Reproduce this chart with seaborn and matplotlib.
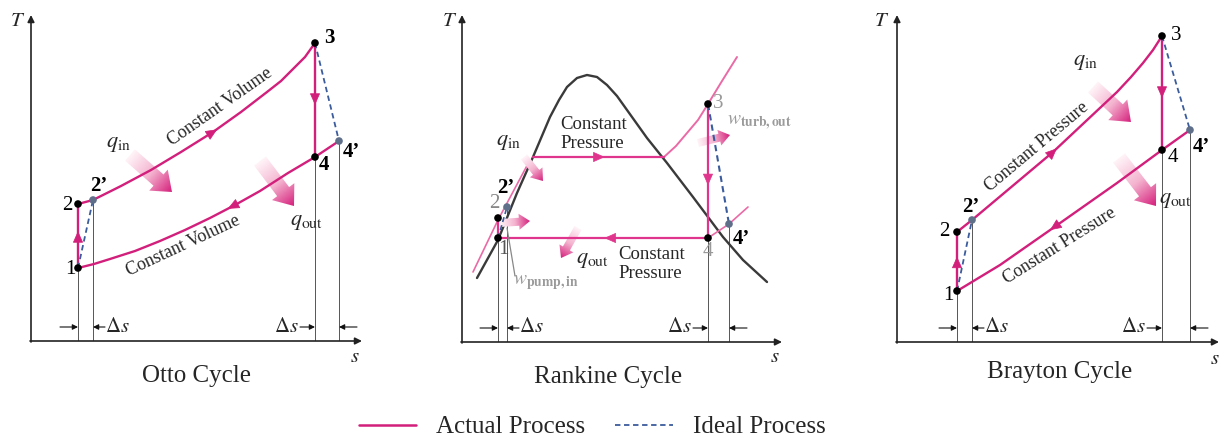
import numpy as np
import matplotlib
matplotlib.use("Agg")
import matplotlib.pyplot as plt
import seaborn as sns
from matplotlib.patches import FancyArrow
from matplotlib.colors import LinearSegmentedColormap
from matplotlib.lines import Line2D

# ------------------------------------------------------------------ data
# state points (s, T in arbitrary units), order: 1, 2, 2', 3, 4, 4'
state_labels = ["1", "2", "2\u2019", "3", "4", "4\u2019"]

otto_s = [47, 47, 62, 284, 284, 308]
otto_T = [73, 137, 141, 298, 184, 200]
otto_heat_s = [47, 62, 90, 120, 150, 182, 210, 236, 250, 262, 274, 284]
otto_heat_T = [137, 141, 155, 171, 189, 209, 229, 249, 260, 272, 284, 298]
otto_rej_s = [308, 284, 257, 229, 204, 179, 154, 129, 104, 79, 63, 47]
otto_rej_T = [200, 184, 168, 150, 136, 123, 111, 100, 90, 82, 77, 73]

rank_s = [36, 36, 45, 246, 246, 267]
rank_T = [104, 124, 135, 238, 104, 118]
dome_s = [15, 36, 55, 71, 88, 97, 105, 115, 125, 135, 145, 155, 165, 185, 205, 231, 246, 261, 281, 305]
dome_T = [64, 102, 149, 185, 225, 242, 255, 264, 267, 265, 257, 246, 232, 204, 179, 145, 125, 105, 82, 60]
boil_s = [71, 202]
boil_T = [185, 185]
superheat_s = [202, 214, 225, 236, 246, 260, 275]
superheat_T = [185, 196, 209, 222, 238, 261, 285]
liquid_s = [11, 36, 68]
liquid_T = [70, 122, 182]
cond_s = [246, 36]
cond_T = [104, 104]
lowp_s = [246, 267, 286]
lowp_T = [104, 118, 135]

bray_s = [60, 60, 75, 265, 265, 293]
bray_T = [51, 110, 122, 306, 192, 212]
bray_heat_s = [60, 75, 156, 220, 234, 246, 256, 265]
bray_heat_T = [110, 122, 190, 250, 265, 279, 292, 306]
bray_rej_s = [293, 265, 220, 156, 103, 60]
bray_rej_T = [212, 192, 159, 114, 77, 51]

titles = ["Otto Cycle", "Rankine Cycle", "Brayton Cycle"]
legend_labels = ["Actual Process", "Ideal Process"]

# ------------------------------------------------------------------ style
sns.set_theme(style="white")
plt.rcParams["font.family"] = ["Liberation Serif", "DejaVu Serif"]
plt.rcParams["mathtext.fontset"] = "stix"

MAG = "#d21f7b"
PINK = "#ea6aa6"
RPINK = "#e0358c"
BLUE = "#3b5c9c"
PRIME = "#5f6f8a"
GRAD = LinearSegmentedColormap.from_list("g", ["#fff4f8", "#f4b3cf", "#d5207c"])

W, H = 1220, 437
fig = plt.figure(figsize=(W / 100, H / 100), dpi=100)
fig.patch.set_facecolor("white")


def make_ax(x0, y0):
    ax = fig.add_axes([x0 / W, (H - y0) / H, 340 / W, 340 / H])
    ax.set_xlim(0, 340)
    ax.set_ylim(0, 340)
    ax.axis("off")
    return ax


def line(ax, xs, ys, color=MAG, lw=1.7, ls="-", z=3):
    sns.lineplot(x=xs, y=ys, sort=False, estimator=None, color=color,
                 lw=lw, linestyle=ls, ax=ax, zorder=z)


def arrow_on(ax, xs, ys, frac, color=MAG, size=15):
    P = np.column_stack([xs, ys]).astype(float)
    seg = np.hypot(*np.diff(P, axis=0).T)
    cum = np.concatenate([[0], np.cumsum(seg)])
    L = frac * cum[-1]
    i = min(np.searchsorted(cum, L) - 1, len(seg) - 1)
    i = max(i, 0)
    t = (L - cum[i]) / seg[i]
    p = P[i] + t * (P[i + 1] - P[i])
    d = (P[i + 1] - P[i]) / seg[i]
    ax.annotate("", xy=p + 5 * d, xytext=p - 5 * d,
                arrowprops=dict(arrowstyle="-|>,head_length=0.5,head_width=0.22",
                                color=color, lw=0.5,
                                mutation_scale=size, shrinkA=0, shrinkB=0),
                zorder=5)


def fat_arrow(ax, x0, y0, x1, y1, w, hw, hl):
    dx, dy = x1 - x0, y1 - y0
    arr = FancyArrow(x0, y0, dx, dy, width=w, head_width=hw, head_length=hl,
                     length_includes_head=True, lw=0, fc="none")
    ax.add_patch(arr)
    xmin, xmax = min(x0, x1) - hw, max(x0, x1) + hw
    ymin, ymax = min(y0, y1) - hw, max(y0, y1) + hw
    X, Y = np.meshgrid(np.linspace(xmin, xmax, 120), np.linspace(ymin, ymax, 120))
    t = ((X - x0) * dx + (Y - y0) * dy) / (dx * dx + dy * dy)
    im = ax.imshow(t, extent=(xmin, xmax, ymin, ymax), origin="lower", cmap=GRAD,
                   vmin=0, vmax=1, aspect="auto", interpolation="bilinear", zorder=2)
    im.set_clip_path(arr)


def small_arrow(ax, xa, xb, y):
    ax.annotate("", xy=(xb, y), xytext=(xa, y),
                arrowprops=dict(arrowstyle="-|>", color="#111", lw=0.8,
                                mutation_scale=8, shrinkA=0, shrinkB=0),
                annotation_clip=False)


def axes_frame(ax, ttop, send, tlab, slab, title, tpos):
    ax.annotate("", xy=(0, ttop), xytext=(0, -1),
                arrowprops=dict(arrowstyle="-|>", color="#222", lw=1.2,
                                mutation_scale=10, shrinkA=0, shrinkB=0),
                annotation_clip=False)
    ax.annotate("", xy=(send, 0), xytext=(-1, 0),
                arrowprops=dict(arrowstyle="-|>", color="#222", lw=1.2,
                                mutation_scale=10, shrinkA=0, shrinkB=0),
                annotation_clip=False)
    ax.text(*tlab, "$T$", fontsize=15, ha="center", va="center")
    ax.text(*slab, "$s$", fontsize=15, ha="center", va="center")
    ax.text(*tpos, title, fontsize=18, ha="center", va="center")


def drops_and_ds(ax, ss, TT):
    for k in (0, 2, 4, 5):
        ax.plot([ss[k], ss[k]], [0, TT[k]], color="#555", lw=0.7, zorder=1)
    y = 14
    small_arrow(ax, ss[0] - 18, ss[0], y)
    small_arrow(ax, ss[2] + 12, ss[2], y)
    ax.text(ss[2] + 12, y, r"$\Delta s$", fontsize=15, ha="left", va="center")
    small_arrow(ax, ss[4] - 15, ss[4], y)
    ax.text(ss[4] - 16, y, r"$\Delta s$", fontsize=15, ha="right", va="center")
    small_arrow(ax, ss[5] + 18, ss[5], y)


def points(ax, ss, TT, offs, weights, colors):
    sns.scatterplot(x=[ss[k] for k in (0, 1, 3, 4)], y=[TT[k] for k in (0, 1, 3, 4)],
                    color="black", s=30, edgecolor="none", ax=ax, zorder=6)
    sns.scatterplot(x=[ss[2], ss[5]], y=[TT[2], TT[5]], color=PRIME, s=30,
                    edgecolor="none", ax=ax, zorder=6)
    for k, lab in enumerate(state_labels):
        ax.text(ss[k] + offs[k][0], TT[k] + offs[k][1], lab, fontsize=15,
                ha="center", va="center", fontweight=weights[k], color=colors[k])


def cycle_lines(ax, ss, TT, heat_s, heat_T, rej_s, rej_T, fr_heat, fr_rej):
    line(ax, [ss[0], ss[1]], [TT[0], TT[1]])
    line(ax, [ss[3], ss[4]], [TT[3], TT[4]])
    line(ax, heat_s, heat_T)
    line(ax, rej_s, rej_T)
    line(ax, [ss[0], ss[2]], [TT[0], TT[2]], color=BLUE, lw=1.3, ls=(0, (3, 2)), z=4)
    line(ax, [ss[3], ss[5]], [TT[3], TT[5]], color=BLUE, lw=1.3, ls=(0, (3, 2)), z=4)
    arrow_on(ax, [ss[0], ss[1]], [TT[0], TT[1]], 0.5)
    arrow_on(ax, [ss[3], ss[4]], [TT[3], TT[4]], 0.5)
    arrow_on(ax, heat_s, heat_T, fr_heat)
    arrow_on(ax, rej_s, rej_T, fr_rej)


qin = r"$q_{\mathrm{in}}$"
qout = r"$q_{\mathrm{out}}$"

# ------------------------------------------------------------------ Otto
ax = make_ax(31, 341)
axes_frame(ax, 326, 331, (-13, 319), (324, -16), titles[0], (166, -35))
drops_and_ds(ax, otto_s, otto_T)
cycle_lines(ax, otto_s, otto_T, otto_heat_s, otto_heat_T, otto_rej_s, otto_rej_T, 0.53, 0.43)
points(ax, otto_s, otto_T,
       [(-8, -2), (-11, -2), (6, 14), (14, 5), (9, -8), (12, -11)],
       ["normal", "normal", "bold", "bold", "bold", "bold"], ["black"] * 6)
ax.text(189, 234, "Constant Volume", rotation=35, fontsize=13, ha="center", va="center")
ax.text(152, 95, "Constant Volume", rotation=25, fontsize=13, ha="center", va="center")
ax.text(87, 196, qin, fontsize=16, ha="center", va="center")
ax.text(276, 119, qout, fontsize=16, ha="center", va="center")
fat_arrow(ax, 99, 186, 141, 149, 15, 28, 18)
fat_arrow(ax, 229, 180, 263, 135, 15, 28, 18)
ax.set_xlim(0, 340); ax.set_ylim(0, 340)

# ------------------------------------------------------------------ Rankine
ax = make_ax(462, 342)
axes_frame(ax, 327, 320, (-12, 320), (313, -16), titles[1], (146, -35))
drops_and_ds(ax, rank_s, rank_T)
line(ax, dome_s, dome_T, color="#3a3a3a", lw=1.7, z=2)
line(ax, liquid_s, liquid_T, color=PINK, lw=1.2, z=2)
line(ax, superheat_s, superheat_T, color=PINK, lw=1.4, z=3)
line(ax, lowp_s, lowp_T, color=PINK, lw=1.2, z=3)
line(ax, boil_s, boil_T, color=RPINK, lw=1.6)
line(ax, cond_s, cond_T, color=RPINK, lw=1.6)
line(ax, [rank_s[3], rank_s[4]], [rank_T[3], rank_T[4]], color=RPINK, lw=1.6)
line(ax, [rank_s[0], rank_s[1]], [rank_T[0], rank_T[1]], color=RPINK, lw=1.6)
line(ax, [rank_s[0], rank_s[2]], [rank_T[0], rank_T[2]], color=BLUE, lw=1.2, ls=(0, (3, 2)), z=4)
line(ax, [rank_s[3], rank_s[5]], [rank_T[3], rank_T[5]], color=BLUE, lw=1.5, ls=(0, (3, 2)), z=4)
arrow_on(ax, boil_s, boil_T, 0.51, color=RPINK)
arrow_on(ax, cond_s, cond_T, 0.47, color=RPINK)
arrow_on(ax, [rank_s[3], rank_s[4]], [rank_T[3], rank_T[4]], 0.57, color=RPINK)
points(ax, rank_s, rank_T,
       [(5, -12), (-4, 14), (-1, 19), (10, 1), (0, -14), (12, -15)],
       ["normal", "normal", "bold", "normal", "normal", "bold"],
       ["#555", "#888", "black", "#999", "#999", "black"])
ax.text(98, 208, "Constant\nPressure", fontsize=13.5, ha="left", va="center", linespacing=1.15)
ax.text(156, 78, "Constant\nPressure", fontsize=13.5, ha="left", va="center", linespacing=1.15)
ax.text(46, 200, qin, fontsize=16, ha="center", va="center")
ax.text(131, 82, qout, fontsize=16, ha="center", va="center")
ax.text(298, 219, r"$w_{\mathbf{turb,out}}$", fontsize=14, ha="center", va="center", color="#9a9a9a")
ax.text(84, 59, r"$w_{\mathbf{pump,in}}$", fontsize=14, ha="center", va="center", color="#9a9a9a")
ax.plot([53, 45], [66, 114], color="#888", lw=0.9, zorder=4)
fat_arrow(ax, 62, 185, 81, 161, 8, 16, 11)
fat_arrow(ax, 38, 119, 68, 121, 8, 16, 11)
fat_arrow(ax, 116, 114, 99, 84, 8, 16, 11)
fat_arrow(ax, 236, 199, 268, 207, 8, 16, 11)
ax.set_xlim(0, 340); ax.set_ylim(0, 340)

# ------------------------------------------------------------------ Brayton
ax = make_ax(897, 342)
axes_frame(ax, 327, 322, (-15, 320), (318, -18), titles[2], (163, -30))
drops_and_ds(ax, bray_s, bray_T)
cycle_lines(ax, bray_s, bray_T, bray_heat_s, bray_heat_T, bray_rej_s, bray_rej_T, 0.44, 0.59)
points(ax, bray_s, bray_T,
       [(-9, -5), (-13, 0), (-1, 13), (14, 1), (11, -7), (11, -17)],
       ["normal", "normal", "bold", "normal", "normal", "bold"], ["black"] * 6)
ax.text(140, 195, "Constant Pressure", rotation=40, fontsize=13, ha="center", va="center")
ax.text(163, 96, "Constant Pressure", rotation=32, fontsize=13, ha="center", va="center")
ax.text(188, 280, qin, fontsize=16, ha="center", va="center")
ax.text(279, 142, qout, fontsize=16, ha="center", va="center")
fat_arrow(ax, 196, 255, 234, 220, 15, 28, 18)
fat_arrow(ax, 222, 184, 259, 136, 15, 28, 18)
ax.set_xlim(0, 340); ax.set_ylim(0, 340)

# ------------------------------------------------------------------ legend
handles = [Line2D([], [], color=MAG, lw=1.8),
           Line2D([], [], color=BLUE, lw=1.3, ls=(0, (3, 2)))]
fig.legend(handles, legend_labels, loc="center", bbox_to_anchor=(592 / W, 1 - 427 / H),
           ncol=2, frameon=False, fontsize=18, handlelength=2.3,
           columnspacing=1.2, handletextpad=0.8)

fig.savefig("out.png", dpi=100)
